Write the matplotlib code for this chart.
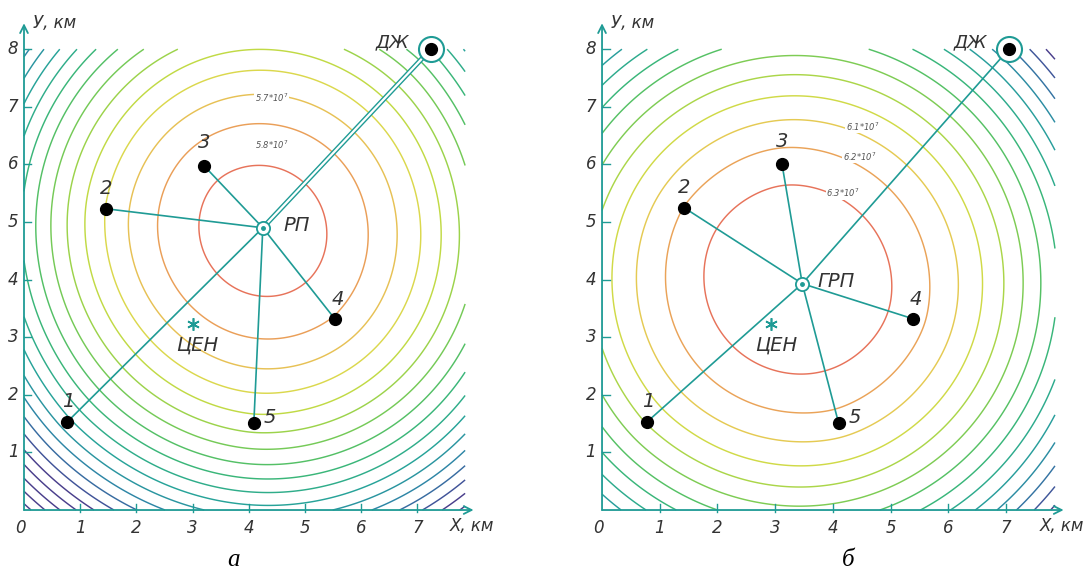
import matplotlib
matplotlib.use('Agg')
import matplotlib.pyplot as plt
import numpy as np
from matplotlib.colors import LinearSegmentedColormap

# consumers 1..5, km
cons_labels = ['1', '2', '3', '4', '5']
cons_x_a = [0.77, 1.46, 3.20, 5.53, 4.09]
cons_y_a = [1.53, 5.23, 5.98, 3.32, 1.51]
cons_x_b = [0.78, 1.42, 3.12, 5.39, 4.10]
cons_y_b = [1.53, 5.25, 6.00, 3.32, 1.51]
cons_w = [1.0, 1.0, 1.0, 1.0, 1.0]

# supply point ДЖ, distribution point РП / ГРП, centre of loads ЦЕН
dj_a, dj_b = (7.24, 8.0), (7.05, 8.0)
dj_w_a, dj_w_b = 2.1, 0.55
hub_a, hub_b = (4.25, 4.90), (3.47, 3.93)
cen_a, cen_b = (3.00, 3.23), (2.93, 3.23)
cost_power = 2.4
cost_linear = 5.0

# contour levels and two points each panel's contours pass through
levels_a = [v * 1e7 for v in (2.0, 2.1, 2.2, 2.3, 2.4, 2.5, 2.6, 2.7, 2.8, 2.9,
                              3.0, 3.1, 3.2, 3.3, 3.4, 3.5, 3.6, 3.7, 3.8, 3.9,
                              4.0, 4.1, 4.2, 4.3, 4.4, 4.5, 4.6, 4.7, 4.8, 4.9,
                              5.0, 5.1, 5.2, 5.3, 5.4, 5.5, 5.6, 5.7, 5.8)]
levels_b = [v * 1e7 for v in (3.0, 3.1, 3.2, 3.3, 3.4, 3.5, 3.6, 3.7, 3.8, 3.9,
                              4.0, 4.1, 4.2, 4.3, 4.4, 4.5, 4.6, 4.7, 4.8, 4.9,
                              5.0, 5.1, 5.2, 5.3, 5.4, 5.5, 5.6, 5.7, 5.8, 5.9,
                              6.0, 6.1, 6.2, 6.3)]
anchors_a = [(4.10, 3.73, 5.8e7), (4.10, 0.31, 4.9e7)]
anchors_b = [(3.47, 2.36, 6.3e7), (3.50, 0.40, 5.9e7)]
# value range from red (top level) to purple
color_span_a = 1.5e7
color_span_b = 1.3e7

# contour labels: text, x, y
clabels_a = [('5.7*10$^7$', 4.41, 7.15), ('5.8*10$^7$', 4.41, 6.34)]
clabels_b = [('6.1*10$^7$', 4.52, 6.66), ('6.2*10$^7$', 4.47, 6.14),
             ('6.3*10$^7$', 4.18, 5.51)]

TEAL = '#1f9b95'
TXT = '#333333'
FONT = dict(family='DejaVu Sans', style='italic', color=TXT)

cmap = LinearSegmentedColormap.from_list('field', [
    (0.00, '#4a3f8c'), (0.10, '#3d5f9f'), (0.20, '#2e86a6'),
    (0.33, '#27a39a'), (0.45, '#34b47e'), (0.56, '#5ec45e'),
    (0.66, '#98d24c'), (0.75, '#cadc44'), (0.82, '#e2d650'),
    (0.90, '#ebb258'), (0.96, '#e98f58'), (1.00, '#e7735a')])


def cost(px, py, xs, ys, dj, dj_w):
    d = np.hypot(px - dj[0], py - dj[1])
    c = dj_w * (cost_linear * d + d ** cost_power)
    for x, y, w in zip(xs, ys, cons_w):
        d = np.hypot(px - x, py - y)
        c = c + w * (cost_linear * d + d ** cost_power)
    return c


def draw_panel(ax, xs, ys, dj, dj_w, hub, cen, levels, anchors, span,
               clabels, hub_name, double, caption, capx):
    gx, gy = np.meshgrid(np.linspace(0, 7.85, 500), np.linspace(0, 8.0, 500))
    (x0, y0, v0), (x1, y1, v1) = anchors
    c0 = cost(x0, y0, xs, ys, dj, dj_w)
    c1 = cost(x1, y1, xs, ys, dj, dj_w)
    rate = (v0 - v1) / (c1 - c0)
    val = v0 - rate * (cost(gx, gy, xs, ys, dj, dj_w) - c0)
    ax.contour(gx, gy, val, levels=levels, cmap=cmap,
               vmin=levels[-1] - span, vmax=levels[-1],
               linewidths=1.05, zorder=1)

    for text, x, y in clabels:
        ax.text(x, y, text, fontsize=6, ha='center', va='center',
                family='DejaVu Sans', style='italic', color='#555555',
                bbox=dict(facecolor='white', edgecolor='none', pad=0.6),
                zorder=2)

    # axes with arrows
    ax.annotate('', xy=(8.0, 0), xytext=(0, 0),
                arrowprops=dict(arrowstyle='->', color=TEAL, lw=1.3,
                                mutation_scale=14, shrinkA=0, shrinkB=0))
    ax.annotate('', xy=(0, 8.45), xytext=(0, 0),
                arrowprops=dict(arrowstyle='->', color=TEAL, lw=1.3,
                                mutation_scale=14, shrinkA=0, shrinkB=0))
    for t in range(1, 8):
        ax.plot([t, t], [-0.03, 0.1], color=TEAL, lw=1.0)
        ax.text(t, -0.32, str(t), fontsize=12, ha='center', va='center', **FONT)
    for t in range(1, 9):
        ax.plot([0, 0.13], [t, t], color=TEAL, lw=1.0)
        ax.text(-0.1, t, str(t), fontsize=12, ha='right', va='center', **FONT)
    ax.text(-0.07, -0.32, '0', fontsize=12, ha='center', va='center', **FONT)
    ax.text(7.58, -0.28, 'X, км', fontsize=12, ha='left', va='center', **FONT)
    ax.text(0.16, 8.45, 'У, км', fontsize=12, ha='left', va='center', **FONT)

    # network
    if double:
        ax.plot([hub[0], dj[0]], [hub[1], dj[1]], color=TEAL, lw=3.6,
                solid_capstyle='butt', zorder=3)
        ax.plot([hub[0], dj[0]], [hub[1], dj[1]], color='white', lw=1.6,
                solid_capstyle='butt', zorder=3)
    else:
        ax.plot([hub[0], dj[0]], [hub[1], dj[1]], color=TEAL, lw=1.2, zorder=3)
    for x, y in zip(xs, ys):
        ax.plot([hub[0], x], [hub[1], y], color=TEAL, lw=1.2, zorder=3)

    ax.plot(xs, ys, 'o', color='black', markersize=8.5, zorder=5)
    offsets = [(1, 20), (0, 20), (0, 23), (3, 19), (16, 6)]
    for lab, x, y, off in zip(cons_labels, xs, ys, offsets):
        ax.annotate(lab, (x, y), xytext=off, textcoords='offset pixels',
                    fontsize=14, ha='center', va='center', **FONT)

    ax.plot(*dj, 'o', markersize=18, markerfacecolor='white',
            markeredgecolor=TEAL, markeredgewidth=1.5, zorder=5)
    ax.plot(*dj, 'o', color='black', markersize=8.5, zorder=6)
    ax.annotate('ДЖ', dj, xytext=(-38, 7), textcoords='offset pixels',
                fontsize=13, ha='center', va='center', **FONT)

    ax.plot(*hub, 'o', markersize=9.5, markerfacecolor='white',
            markeredgecolor=TEAL, markeredgewidth=1.3, zorder=5)
    ax.plot(*hub, 'o', color=TEAL, markersize=2.5, zorder=6)
    ax.annotate(hub_name, hub, xytext=(34, 2), textcoords='offset pixels',
                fontsize=14, ha='center', va='center', **FONT)

    ax.plot(*cen, marker=(6, 2, 0), color=TEAL, markersize=9, mew=1.2, zorder=5)
    ax.annotate('ЦЕН', cen, xytext=(5, -21), textcoords='offset pixels',
                fontsize=14, ha='center', va='center', **FONT)

    ax.text(capx, -0.97, caption, fontsize=18, ha='center', va='baseline',
            family='Liberation Serif', style='italic', color='black')
    ax.set_axis_off()


fig = plt.figure(figsize=(10.85, 5.72), dpi=100)
ax_a = fig.add_axes([0.4 / 1085, 1.5 / 572, 490 / 1085, 564.5 / 572])
ax_a.set_xlim(-0.42, 8.3)
ax_a.set_ylim(-1.05, 8.75)
ax_b = fig.add_axes([577.8 / 1085, 1.5 / 572, 506 / 1085, 564.5 / 572])
ax_b.set_xlim(-0.42, 8.35)
ax_b.set_ylim(-1.05, 8.75)

draw_panel(ax_a, cons_x_a, cons_y_a, dj_a, dj_w_a, hub_a, cen_a, levels_a,
           anchors_a, color_span_a, clabels_a, 'РП', True, 'а', 3.72)
draw_panel(ax_b, cons_x_b, cons_y_b, dj_b, dj_w_b, hub_b, cen_b, levels_b,
           anchors_b, color_span_b, clabels_b, 'ГРП', False, 'б', 4.26)

fig.savefig('out.png', dpi=100, facecolor='white')
